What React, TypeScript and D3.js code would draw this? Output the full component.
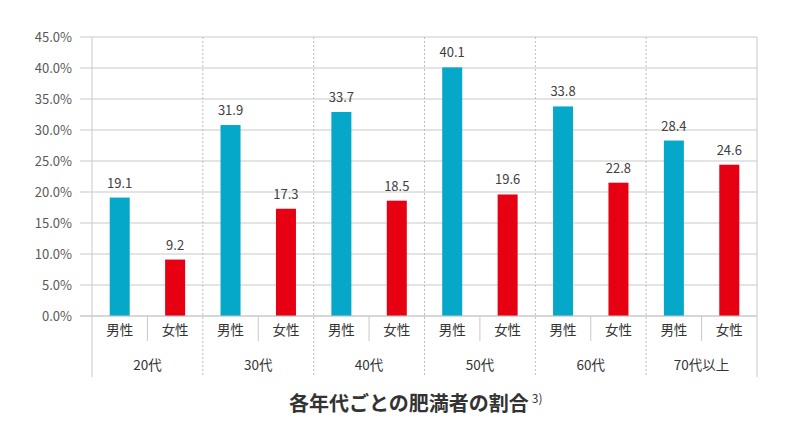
import React from "react";
import * as d3 from "d3";

const groups = ["20代", "30代", "40代", "50代", "60代", "70代以上"];
const sexes = ["男性", "女性"];
// bar heights as drawn in the reference
const maleBars = [19.1, 30.8, 32.9, 40.1, 33.8, 28.3];
const femaleBars = [9.1, 17.3, 18.6, 19.6, 21.5, 24.4];
// printed data labels
const maleLabels = ["19.1", "31.9", "33.7", "40.1", "33.8", "28.4"];
const femaleLabels = ["9.2", "17.3", "18.5", "19.6", "22.8", "24.6"];
const yTicks = [0, 5, 10, 15, 20, 25, 30, 35, 40, 45];
const title = "各年代ごとの肥満者の割合";
const titleNote = "3)";

const W = 790, H = 444;
const left = 92, right = 757, top = 37, bottom = 316;
const subBottom = 341, groupBottom = 377;
const colors = ["#05A8C8", "#E60012"];
const font = "'Noto Sans CJK JP', 'Noto Sans', sans-serif";

export default function App() {
  const y = d3.scaleLinear().domain([0, 45]).range([bottom, top]);
  const xg = d3.scaleBand<string>().domain(groups).range([left, right]).padding(0);
  const xs = d3.scaleBand<string>().domain(sexes).range([0, xg.bandwidth()]).padding(0);
  const barW = 20;
  const series = [
    { bars: maleBars, labels: maleLabels },
    { bars: femaleBars, labels: femaleLabels },
  ];
  const grid = "#c9c9c9";
  return (
    <div style={{ position: "absolute", left: 0, top: 0 }}>
      <svg width={W} height={H} style={{ display: "block", background: "#fff" }} fontFamily={font}>
        {yTicks.map((t) => (
          <g key={t}>
            <line x1={80} x2={right} y1={y(t)} y2={y(t)} stroke={grid} strokeWidth={1} />
            <text x={72} y={y(t)} dy="0.35em" textAnchor="end" fontSize={13} fill="#595959">
              {d3.format(".1f")(t) + "%"}
            </text>
          </g>
        ))}
        {groups.map((g, i) => {
          const gx = xg(g)!;
          return (
            <g key={g}>
              {i > 0 && (
                <line x1={gx} x2={gx} y1={top} y2={groupBottom} stroke="#bdbdbd" strokeDasharray="2,2" />
              )}
              <line
                x1={gx + xs.bandwidth()}
                x2={gx + xs.bandwidth()}
                y1={bottom}
                y2={subBottom}
                stroke={grid}
              />
              {sexes.map((s, j) => {
                const cx = gx + xs(s)! + xs.bandwidth() / 2;
                const v = series[j].bars[i];
                return (
                  <g key={s}>
                    <rect x={cx - barW / 2} y={y(v)} width={barW} height={bottom - y(v)} fill={colors[j]} />
                    <text x={cx} y={y(v) - 10} textAnchor="middle" fontSize={13} fill="#404040">
                      {series[j].labels[i]}
                    </text>
                    <text x={cx} y={330} dy="0.35em" textAnchor="middle" fontSize={13.5} fill="#333">
                      {s}
                    </text>
                  </g>
                );
              })}
              <text x={gx + xg.bandwidth() / 2} y={365} dy="0.35em" textAnchor="middle" fontSize={13.5} fill="#333">
                {g}
              </text>
            </g>
          );
        })}
        <line x1={left} x2={left} y1={top} y2={groupBottom} stroke={grid} />
        <line x1={right} x2={right} y1={top} y2={groupBottom} stroke={grid} />
        <line x1={80} x2={right} y1={bottom} y2={bottom} stroke={grid} />
        <text x={289} y={411} textAnchor="start" fontSize={20} fontWeight="bold" fill="#333">
          {title}
          <tspan fontSize={12} fontWeight="normal" dx={3} dy={-8}>{titleNote}</tspan>
        </text>
      </svg>
    </div>
  );
}
